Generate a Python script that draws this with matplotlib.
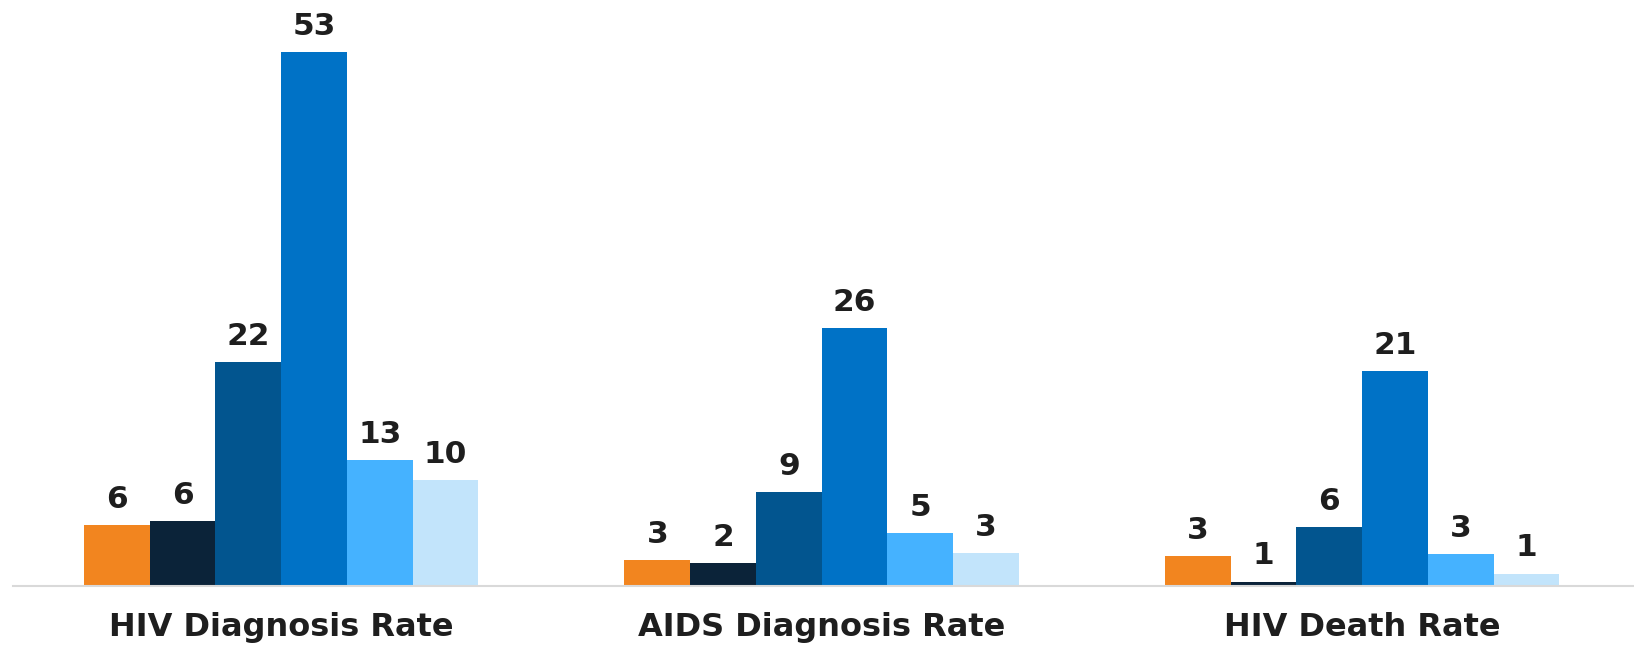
import numpy as np
import matplotlib
matplotlib.use("Agg")
import matplotlib.pyplot as plt

# data (bar heights, labels as printed)
categories = ["HIV Diagnosis Rate", "AIDS Diagnosis Rate", "HIV Death Rate"]
series_colors = ["#F2851F", "#0B2339", "#02558F", "#0072C6", "#45B2FF", "#C2E4FB"]

s1 = [6.0, 2.5, 2.9]
s2 = [6.4, 2.2, 0.4]
s3 = [22.2, 9.3, 5.8]
s4 = [53.0, 25.6, 21.3]
s5 = [12.5, 5.2, 3.1]
s6 = [10.5, 3.2, 1.2]
series = [s1, s2, s3, s4, s5, s6]

lab1 = ["6", "3", "3"]
lab2 = ["6", "2", "1"]
lab3 = ["22", "9", "6"]
lab4 = ["53", "26", "21"]
lab5 = ["13", "5", "3"]
lab6 = ["10", "3", "1"]
labels = [lab1, lab2, lab3, lab4, lab5, lab6]

plt.rcParams["font.family"] = ["DejaVu Sans"]

fig = plt.figure(figsize=(16.34, 6.46), dpi=100)
ax = fig.add_axes([0.008, 0.0935, 0.992, 0.9065])

x = np.arange(len(categories))
w = 0.1216
for i, (vals, labs, col) in enumerate(zip(series, labels, series_colors)):
    offs = (i - 2.5) * w
    bars = ax.bar(x + offs, vals, w, color=col, linewidth=0)
    ax.bar_label(bars, labels=labs, padding=8, fontsize=22.5,
                 fontweight="bold", color="#1E1E1E")

ax.set_xlim(-0.496, 2.503)
ax.set_ylim(0, 58.2)
ax.set_xticks(x)
ax.set_xticklabels(categories, fontsize=23, fontweight="bold", color="#1E1E1E")
ax.tick_params(axis="x", length=0, pad=19)
ax.set_yticks([])

for s in ["top", "right", "left"]:
    ax.spines[s].set_visible(False)
ax.spines["bottom"].set_color("#D9D9D9")
ax.spines["bottom"].set_linewidth(1.5)

fig.savefig("out.png", dpi=100)
